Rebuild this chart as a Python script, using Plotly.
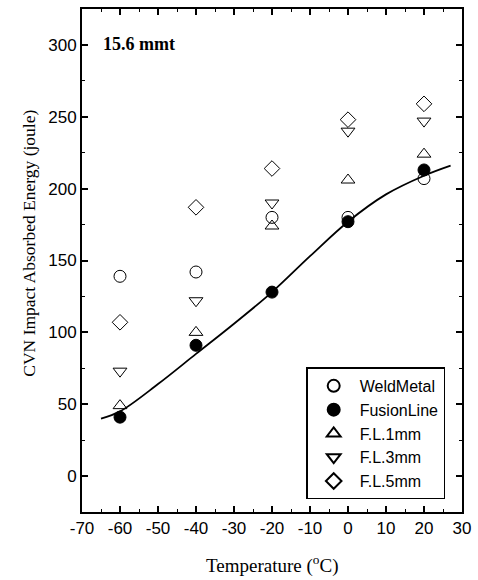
import plotly.graph_objects as go

temps = [-60, -40, -20, 0, 20]
weld_metal = [139, 142, 180, 180, 207]
fusion_line = [41, 91, 128, 177, 213]
fl_1mm = [49, 100, 174, 206, 224]
fl_3mm = [73, 122, 190, 240, 247]
fl_5mm = [107, 187, 214, 248, 259]

fit_t = [-65, -60, -50, -40, -30, -20, -10, 0, 10, 20, 27]
fit_e = [40, 45, 64, 85, 106, 128, 153, 177, 196, 209, 216]

x_ticks = [-70, -60, -50, -40, -30, -20, -10, 0, 10, 20, 30]
x_tick_labels = ["-70", "-60", "-50", "-40", "-30", "-20", "-10", "0", "10", "20", "30"]
y_ticks = [0, 50, 100, 150, 200, 250, 300]
y_tick_labels = ["0", "50", "100", "150", "200", "250", "300"]

fig = go.Figure()
fig.add_trace(go.Scatter(x=fit_t, y=fit_e, mode="lines",
                         line=dict(color="black", width=1.8, shape="spline", smoothing=1.0),
                         showlegend=False, hoverinfo="skip"))

series = [
    ("WeldMetal", weld_metal, "circle-open"),
    ("FusionLine", fusion_line, "circle"),
    ("F.L.1mm", fl_1mm, "triangle-up-open"),
    ("F.L.3mm", fl_3mm, "triangle-down-open"),
    ("F.L.5mm", fl_5mm, "diamond-open"),
]
for name, vals, sym in series:
    fig.add_trace(go.Scatter(x=temps, y=vals, mode="markers", name=name,
                             marker=dict(symbol=sym, size=12, color="black",
                                         line=dict(color="black", width=1))))

axis_common = dict(showline=True, linecolor="black", linewidth=2, mirror="ticks", ticks="inside",
                   ticklen=6, tickwidth=1.5, tickcolor="black", showgrid=False, zeroline=False,
                   tickfont=dict(family="Liberation Sans, Arial", size=17, color="black"))

fig.update_xaxes(range=[-70, 30], tickvals=x_ticks, ticktext=x_tick_labels,
                 minor=dict(ticks="inside", ticklen=3, dtick=5, tick0=-70, tickcolor="black", tickwidth=1.2),
                 **axis_common)
fig.update_yaxes(range=[-25, 325], tickvals=y_ticks, ticktext=y_tick_labels,
                 minor=dict(ticks="inside", ticklen=3, dtick=25, tick0=0, tickcolor="black", tickwidth=1.2),
                 **axis_common)

serif = "Liberation Serif, Times New Roman"
fig.add_annotation(x=0.5, y=-0.105, xref="paper", yref="paper", text="Temperature (<sup>o</sup>C)",
                   showarrow=False, xanchor="center", yanchor="middle",
                   font=dict(family=serif, size=19, color="black"))
fig.add_annotation(x=-0.14, y=0.535, xref="paper", yref="paper", text="CVN Impact Absorbed Energy (joule)",
                   showarrow=False, textangle=-90, xanchor="center", yanchor="middle",
                   font=dict(family=serif, size=17.5, color="black"))
fig.add_annotation(x=0.05, y=0.93, xref="paper", yref="paper", text="<b>15.6 mmt</b>", showarrow=False,
                   xanchor="left", yanchor="middle", font=dict(family=serif, size=18, color="black"))

fig.update_layout(
    width=478, height=580,
    margin=dict(l=82, r=11, t=7, b=68),
    plot_bgcolor="white", paper_bgcolor="white",
    showlegend=True,
    legend=dict(x=0.59, y=0.025, xanchor="left", yanchor="bottom", bordercolor="black", borderwidth=1.5,
                bgcolor="white", font=dict(family="Liberation Sans, Arial", size=16, color="black"),
                tracegroupgap=0, itemsizing="constant", itemwidth=42),
)

fig.write_html("out.html")
